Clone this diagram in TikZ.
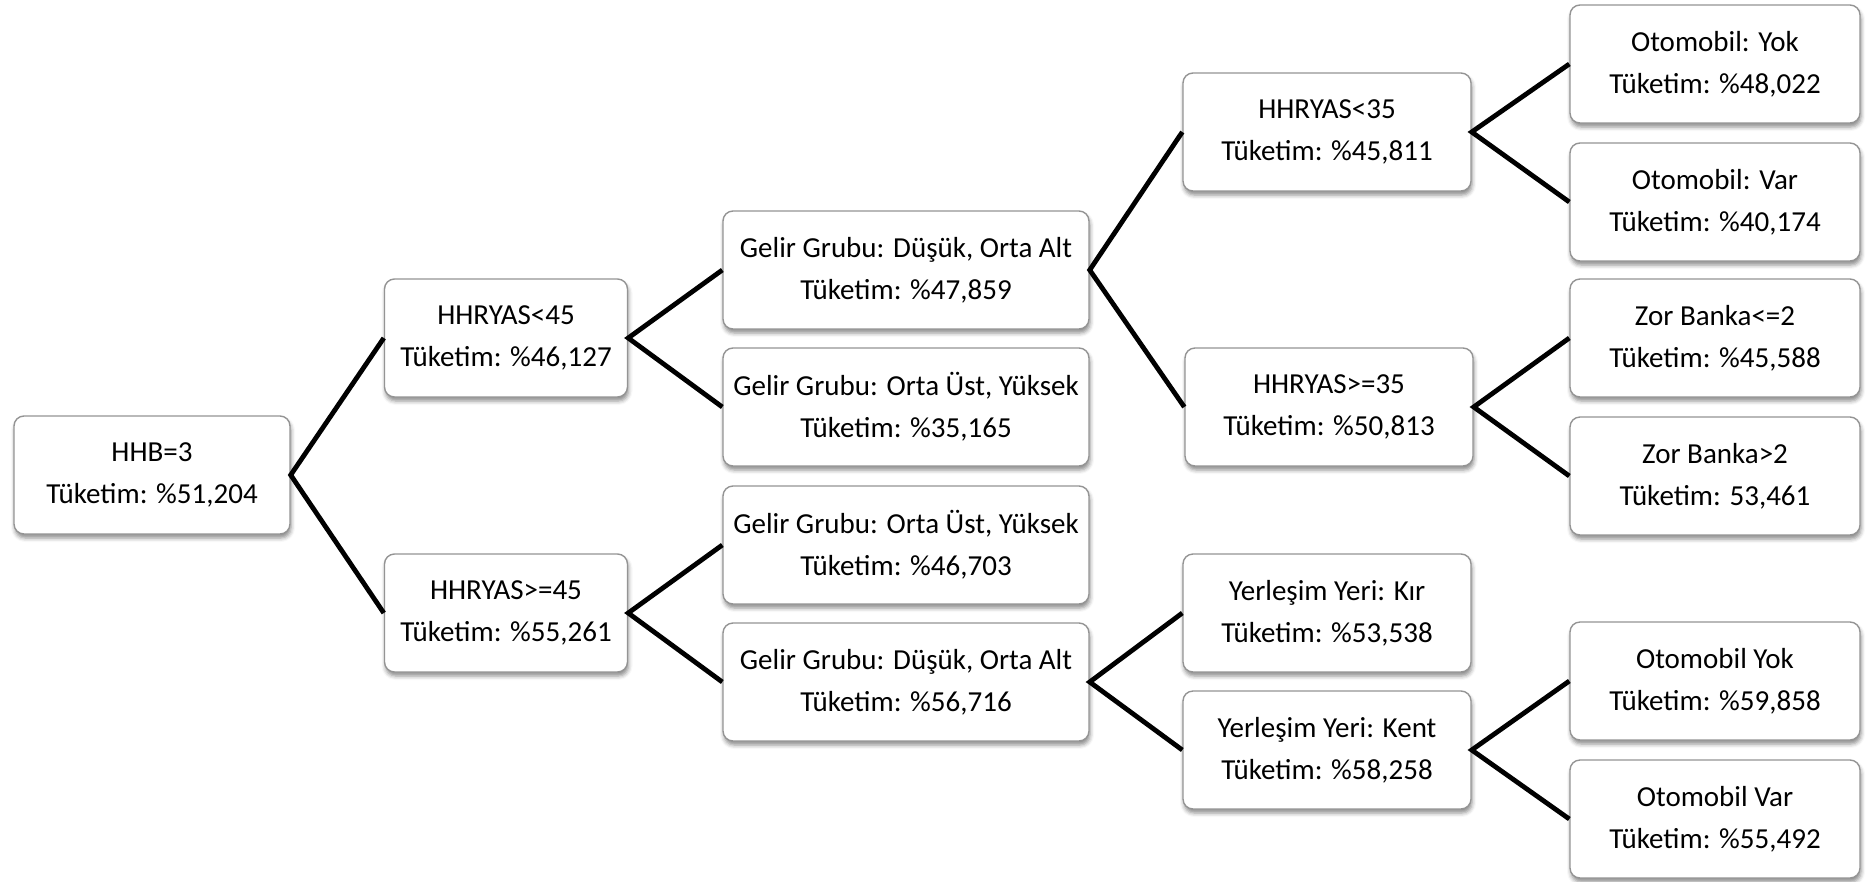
\documentclass[tikz,border=0pt]{standalone}
\usepackage{fontspec}
\setmainfont{Carlito}
\usetikzlibrary{shadows.blur}
\begin{document}
\begin{tikzpicture}[x=1pt,y=-1pt,
  treebox/.style={draw=black!42, line width=1.4pt, rounded corners=10pt, fill=white,
    minimum height=118pt, inner sep=0pt, align=center,
    font=\fontsize{29}{42}\selectfont,
    blur shadow={shadow xshift=1pt, shadow yshift=-4pt, shadow blur radius=4pt, shadow opacity=45}},
  branch/.style={line width=4.8pt, black}]
\useasboundingbox (0,0) rectangle (1874,881);
% level 0
\node[treebox, minimum width=276pt] (root) at (152,475) {HHB=3\\Tüketim: \%51,204};
% level 1
\node[treebox, minimum width=243pt] (a1) at (506,338) {HHRYAS<45\\Tüketim: \%46,127};
\node[treebox, minimum width=243pt] (a2) at (506,613) {HHRYAS>=45\\Tüketim: \%55,261};
% level 2
\node[treebox, minimum width=366pt] (b1) at (906,270) {Gelir Grubu: Düşük, Orta Alt\\Tüketim: \%47,859};
\node[treebox, minimum width=366pt] (b2) at (906,407) {Gelir Grubu: Orta Üst, Yüksek\\Tüketim: \%35,165};
\node[treebox, minimum width=366pt] (b3) at (906,545) {Gelir Grubu: Orta Üst, Yüksek\\Tüketim: \%46,703};
\node[treebox, minimum width=366pt] (b4) at (906,682) {Gelir Grubu: Düşük, Orta Alt\\Tüketim: \%56,716};
% level 3
\node[treebox, minimum width=288pt] (c1) at (1327,132) {HHRYAS<35\\Tüketim: \%45,811};
\node[treebox, minimum width=288pt] (c2) at (1329,407) {HHRYAS>=35\\Tüketim: \%50,813};
\node[treebox, minimum width=288pt] (e1) at (1327,613) {Yerleşim Yeri: Kır\\Tüketim: \%53,538};
\node[treebox, minimum width=288pt] (e2) at (1327,750) {Yerleşim Yeri: Kent\\Tüketim: \%58,258};
% level 4
\node[treebox, minimum width=290pt] (d1) at (1715,64) {Otomobil: Yok\\Tüketim: \%48,022};
\node[treebox, minimum width=290pt] (d2) at (1715,202) {Otomobil: Var\\Tüketim: \%40,174};
\node[treebox, minimum width=290pt] (d3) at (1715,338) {Zor Banka<=2\\Tüketim: \%45,588};
\node[treebox, minimum width=290pt] (d4) at (1715,476) {Zor Banka>2\\Tüketim: 53,461};
\node[treebox, minimum width=290pt] (f1) at (1715,681) {Otomobil Yok\\Tüketim: \%59,858};
\node[treebox, minimum width=290pt] (f2) at (1715,819) {Otomobil Var\\Tüketim: \%55,492};
% branches
\draw[branch] (a1.west) -- (root.east) -- (a2.west);
\draw[branch] (b1.west) -- (a1.east) -- (b2.west);
\draw[branch] (b3.west) -- (a2.east) -- (b4.west);
\draw[branch] (c1.west) -- (b1.east) -- (c2.west);
\draw[branch] (e1.west) -- (b4.east) -- (e2.west);
\draw[branch] (d1.west) -- (c1.east) -- (d2.west);
\draw[branch] (d3.west) -- (c2.east) -- (d4.west);
\draw[branch] (f1.west) -- (e2.east) -- (f2.west);
\end{tikzpicture}
\end{document}
